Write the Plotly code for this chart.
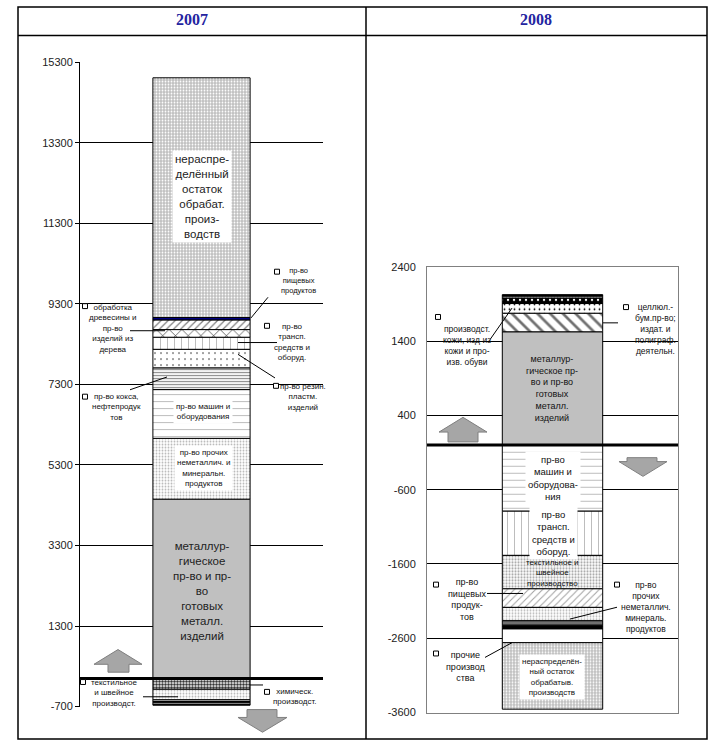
import plotly.graph_objects as go

W, H = 710, 751

# ---------------- data ----------------
years = ["2007", "2008"]

sectors_2007 = [
    "металлургическое пр-во и пр-во готовых металл. изделий",
    "пр-во прочих неметаллич. и минеральн. продуктов",
    "пр-во машин и оборудования",
    "пр-во кокса, нефтепродуктов",
    "пр-во резин. пластм. изделий",
    "пр-во трансп. средств и оборуд.",
    "обработка древесины и пр-во изделий из дерева",
    "пр-во пищевых продуктов",
    "прочие (1)",
    "нераспределённый остаток обрабат. производств",
    "химическ. производст.",
    "текстильное и швейное производст.",
    "прочие (2)",
    "прочие (3)",
    "прочие (4)",
    "прочие (5)",
]
values_2007 = [4450, 1510, 1210, 540, 460, 300, 190, 240, 60, 5950,
               -270, -260, -40, -25, -45, -25]

sectors_2008 = [
    "металлургическое пр-во и пр-во готовых металл. изделий",
    "целлюл.-бум.пр-во; издат. и полиграф. деятельн.",
    "производст. кожи, изд из кожи и произв. обуви",
    "прочие (1)",
    "прочие (2)",
    "прочие (3)",
    "пр-во машин и оборудования",
    "пр-во трансп. средств и оборуд.",
    "текстильное и швейное производство",
    "пр-во пищевых продуктов",
    "пр-во прочих неметаллич. минераль. продуктов",
    "прочие (4)",
    "прочие (5)",
    "прочие (6)",
    "прочие производства",
    "нераспределённый остаток обрабатыв. производств",
]
values_2008 = [1525, 250, 130, 75, 25, 20,
               -890, -595, -450, -250, -180, -60, -10, -40, -185, -895]

ticks_2007 = list(range(-700, 15301, 2000))
ticks_2008 = list(range(-3600, 2401, 1000))

# ---------------- styles ----------------
def st(bg, fg=None, shape="", size=6, solidity=0.3):
    return dict(bg=bg, fg=fg, shape=shape, size=size, solidity=solidity)

GRAY = "#C0C0C0"
styles_2007 = [
    st(GRAY),
    st("white", "#B8B8B8", ".", 3, 0.3),
    st("white", "#B0B0B0", "-", 7, 0.12),
    st("white", "#8C8C8C", "-", 3, 0.4),
    st("white", "#000000", ".", 6, 0.04),
    st("white", "#B0B0B0", "|", 7, 0.12),
    st("white", "#000000", "x", 9, 0.12),
    st("white", "#808080", "/", 5, 0.25),
    st("#000080"),
    st(GRAY, "white", ".", 3, 0.3),
    st("white", "#303030", ".", 3, 0.55),
    st("white", "#B8B8B8", ".", 3, 0.3),
    st("white"),
    st("#000000"),
    st("white"),
    st("#000000"),
]
styles_2008 = [
    st(GRAY),
    st("white", "#707070", "\\", 9, 0.3),
    st("white", "#000000", ".", 5, 0.1),
    st("#000000", "white", ".", 6, 0.12),
    st("white", "#909090", ".", 3, 0.35),
    st("#000000"),
    st("white", "#B0B0B0", "-", 7, 0.12),
    st("white", "#B0B0B0", "|", 7, 0.12),
    st("white", "#A0A0A0", ".", 3, 0.4),
    st("white", "#A0A0A0", "/", 5, 0.2),
    st("white", "#B8B8B8", ".", 3, 0.3),
    st("#707070"),
    st("white"),
    st("#000000"),
    st("white"),
    st(GRAY, "white", ".", 3, 0.3),
]

def px(x):
    return x / W

def py(y):
    return 1 - y / H

fig = go.Figure()

def add_bars(year, names, values, styles, xa, ya):
    for n, v, s in zip(names, values, styles):
        marker = dict(color=s["bg"], line=dict(color="black", width=1))
        if s["shape"]:
            marker["pattern"] = dict(shape=s["shape"], bgcolor=s["bg"], fgcolor=s["fg"],
                                     size=s["size"], solidity=s["solidity"], fillmode="replace")
        fig.add_trace(go.Bar(x=[year], y=[v], name=n, width=0.4, marker=marker,
                             xaxis=xa, yaxis=ya, showlegend=False, hoverinfo="skip"))

add_bars(years[0], sectors_2007, values_2007, styles_2007, "x", "y")
add_bars(years[1], sectors_2008, values_2008, styles_2008, "x2", "y2")

TF = dict(family="Arial, Liberation Sans", size=11, color="#222222")

fig.update_layout(
    width=W, height=H, margin=dict(l=0, r=0, t=0, b=0), autosize=False,
    paper_bgcolor="white", plot_bgcolor="rgba(0,0,0,0)",
    barmode="relative",
    xaxis=dict(domain=[px(80), px(323)], anchor="y", showticklabels=False,
               showgrid=False, zeroline=False, range=[-0.5, 0.5], fixedrange=True),
    yaxis=dict(domain=[py(712), py(57)], anchor="x", range=[-700, 15300],
               tickvals=ticks_2007, ticktext=[str(t) for t in ticks_2007],
               showgrid=True, gridcolor="black", gridwidth=1, zeroline=False,
               showline=True, linecolor="black", linewidth=1,
               ticks="outside", ticklen=4, tickcolor="black", tickfont=TF),
    xaxis2=dict(domain=[px(427), px(678)], anchor="y2", showticklabels=False,
                showgrid=False, zeroline=False, range=[-0.5, 0.5],
                showline=True, mirror=True, linecolor="#808080", linewidth=1),
    yaxis2=dict(domain=[py(718), py(265)], anchor="x2", range=[-3600, 2400],
                tickvals=ticks_2008, ticktext=[str(t) for t in ticks_2008],
                showgrid=True, gridcolor="black", gridwidth=1, zeroline=False,
                showline=True, mirror=True, linecolor="#808080", linewidth=1,
                ticks="", ticklabelstandoff=8, tickfont=TF),
)

shapes = []
# table frame
shapes.append(dict(type="rect", xref="paper", yref="paper", x0=px(18), x1=px(707),
                   y0=py(1), y1=py(745), line=dict(color="black", width=1.5)))
shapes.append(dict(type="line", xref="paper", yref="paper", x0=px(366), x1=px(366),
                   y0=py(1), y1=py(745), line=dict(color="black", width=1.5)))
shapes.append(dict(type="line", xref="paper", yref="paper", x0=px(18), x1=px(707),
                   y0=py(30), y1=py(30), line=dict(color="black", width=1.5)))
# thick zero lines
shapes.append(dict(type="line", xref="x domain", yref="y", x0=0, x1=1, y0=0, y1=0,
                   line=dict(color="black", width=3)))
shapes.append(dict(type="line", xref="x2 domain", yref="y2", x0=0, x1=1, y0=0, y1=0,
                   line=dict(color="black", width=3)))

def path(pts):
    s = "M " + " L ".join(f"{px(x):.5f},{py(y):.5f}" for x, y in pts) + " Z"
    return dict(type="path", xref="paper", yref="paper", path=s,
                fillcolor="#A6A6A6", line=dict(color="#7F7F7F", width=1))

def up_arrow(xl, xr, sl, sr, tip_y, base_y, bot_y):
    return path([(xl, base_y), ((xl + xr) / 2, tip_y), (xr, base_y), (sr, base_y),
                 (sr, bot_y), (sl, bot_y), (sl, base_y)])

def down_arrow(xl, xr, sl, sr, top_y, base_y, tip_y):
    return path([(sl, top_y), (sr, top_y), (sr, base_y), (xr, base_y),
                 ((xl + xr) / 2, tip_y), (xl, base_y), (sl, base_y)])

shapes.append(up_arrow(94, 142, 108, 129, 654, 669, 677))
shapes.append(down_arrow(238, 287, 247, 277, 715, 723, 738))
shapes.append(up_arrow(439, 487, 448, 478, 418, 433, 443))
shapes.append(down_arrow(619, 667, 627, 657, 459, 463, 478))

def seg(x0, y0, x1, y1):
    shapes.append(dict(type="line", xref="paper", yref="paper", x0=px(x0), y0=py(y0),
                       x1=px(x1), y1=py(y1), line=dict(color="black", width=1)))

def square(x, y):
    shapes.append(dict(type="rect", xref="paper", yref="paper", x0=px(x - 2.5), x1=px(x + 2.5),
                       y0=py(y - 2.5), y1=py(y + 2.5), fillcolor="white",
                       line=dict(color="black", width=1)))

# leader lines 2007
seg(268, 296, 251, 317)
seg(130, 330, 165, 330)
seg(238, 342, 277, 342)
seg(238, 354, 275, 378)
seg(130, 390, 167, 377)
seg(143, 702, 178, 702)
seg(250, 690, 263, 690)
# leader lines 2008
seg(490, 339, 512, 307)
seg(603, 322, 618, 322)
seg(487, 597, 523, 597)
seg(570, 623, 617, 611)
seg(485, 662, 512, 647)

for sx, sy in [(85, 305), (85, 397), (83, 687), (277, 270), (267, 325), (276, 386),
               (267, 697), (438, 316), (626, 306), (436, 588), (617, 588), (436, 658)]:
    square(sx, sy)

fig.update_layout(shapes=shapes)

ann = []

def label(cx, cy, text, size=8, bg=None, color="#111111"):
    a = dict(xref="paper", yref="paper", x=px(cx), y=py(cy), text=text, showarrow=False,
             xanchor="center", yanchor="middle", align="center",
             font=dict(family="Arial, Liberation Sans", size=size, color=color))
    if bg:
        a["bgcolor"] = bg
        a["borderpad"] = 2
    ann.append(a)

# headers
for cx, t in [(192, years[0]), (536, years[1])]:
    ann.append(dict(xref="paper", yref="paper", x=px(cx), y=py(14), text=f"<b>{t}</b>",
                    showarrow=False, xanchor="center", yanchor="middle",
                    font=dict(family="Liberation Serif, Times New Roman", size=16, color="#2424A0")))

# 2007 bar labels
label(202, 194, "нераспре-<br>делённый<br>остаток<br>обрабат.<br>произ-<br>водств", 11.5, "white", "#222")
label(202, 594, "металлур-<br>гическое<br>пр-во и пр-<br>во<br>готовых<br>металл.<br>изделий", 11.5, None, "#222")
label(203, 412, "пр-во машин и<br>оборудования", 8, "white")
label(203, 470, "пр-во прочих<br>неметаллич. и<br>минеральн.<br>продуктов", 8, "white")
# 2007 side labels
label(113, 328, "обработка<br>древесины и<br>пр-во<br>изделий из<br>дерева", 8)
label(116, 408, "пр-во кокса,<br>нефтепродук<br>тов", 8)
label(114, 698, "текстильное<br>и швейное<br>производст.", 8)
label(298, 279, "пр-во<br>пищевых<br>продуктов", 7.5)
label(292, 341, "пр-во<br>трансп.<br>средств и<br>оборуд.", 8)
label(303, 397, "пр-во резин.<br>пластм.<br>изделий", 8)
label(294, 702, "химическ.<br>производст.", 8)

# 2008 bar labels
label(552, 389, "металлур-<br>гическое пр-<br>во и пр-во<br>готовых<br>металл.<br>изделий", 9)
label(553, 480, "пр-во<br>машин и<br>оборудова-<br>ния", 9.5, "white")
label(553, 536, "пр-во<br>трансп.<br>средств и<br>оборуд.", 9.5, "white")
label(552, 576, "текстильное и<br>швейное<br>производство", 8)
label(552, 682, "нераспределён-<br>ный остаток<br>обрабатыв.<br>производств", 8, "white")
# 2008 side labels
label(467, 345, "производст.<br>кожи, изд из<br>кожи и про-<br>изв. обуви", 8.5)
label(655, 328, "целлюл.-<br>бум.пр-во;<br>издат. и<br>полиграф.<br>деятельн.", 8.5)
label(467, 603, "пр-во<br>пищевых<br>продук-<br>тов", 9)
label(646, 611, "пр-во<br>прочих<br>неметаллич.<br>минераль.<br>продуктов", 8.5)
label(466, 671, "прочие<br>производ<br>ства", 9)

fig.update_layout(annotations=ann)

fig.write_html(
    "out.html",
    config={"displayModeBar": False},
    post_script="document.documentElement.style.margin='0';document.documentElement.style.padding='0';"
                "document.body.style.margin='0';document.body.style.padding='0';"
                "document.body.style.overflow='hidden';",
)
